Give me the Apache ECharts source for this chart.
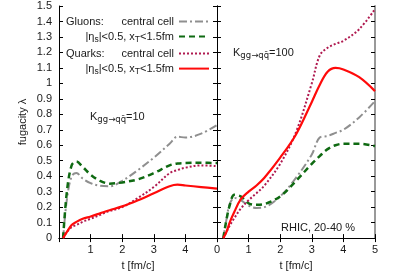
<!DOCTYPE html>
<html>
<head>
<meta charset="utf-8">
<script src="https://cdn.jsdelivr.net/npm/echarts@6/dist/echarts.min.js"></script>
<style>html,body{margin:0;padding:0;background:#fff;}#c{width:395px;height:276px;}</style>
</head>
<body>
<div id="c"></div>
<script>
// ---- data ----
var yTicks = [0,0.1,0.2,0.3,0.4,0.5,0.6,0.7,0.8,0.9,1,1.1,1.2,1.3,1.4,1.5];
var xTicks = [0,1,2,3,4,5];

// left panel: K = 10
var tLeft          = [0.13,0.25,0.4, 0.55, 0.75,1,    1.3,  1.6,  2,    2.5,  3,    3.5,  3.75, 4,    4.5,  5];
var gluonCentralL  = [0,   0.25,0.40,0.42, 0.385,0.355,0.338,0.335,0.37, 0.44, 0.52, 0.61, 0.655,0.65, 0.675,0.73];
var gluonCellL     = [0,   0.30,0.47,0.495,0.46, 0.41, 0.37, 0.352,0.36, 0.38, 0.42, 0.47, 0.482,0.485,0.487,0.485];
var quarkCentralL  = [0,   0.04,0.07,0.085,0.105,0.125,0.15, 0.175,0.2,  0.26, 0.33, 0.42, 0.44, 0.455,0.47, 0.465];
var quarkCellL     = [0,   0.04,0.085,0.105,0.125,0.14,0.16, 0.18, 0.205,0.245,0.29, 0.335,0.345,0.34, 0.33, 0.32];

// right panel: K = 100
var tRight         = [0.2,0.3, 0.4, 0.55,0.75, 1,    1.25, 1.5, 2,    2.5,  3,    3.25, 3.5,  3.75, 4,    4.5,  5];
var gluonCentralR  = [0,  0.12,0.22,0.26,0.245,0.21, 0.195,0.2, 0.27, 0.39, 0.54, 0.65, 0.66, 0.68, 0.70, 0.78, 0.885];
var gluonCellR     = [0,  0.12,0.21,0.28,0.27, 0.225,0.215,0.22,0.27, 0.37, 0.48, 0.53, 0.575,0.60, 0.61, 0.61, 0.595];
var quarkCentralR  = [0,  0.04,0.08,0.13,0.19, 0.245,0.29, 0.34,0.48, 0.685,1.0,  1.18, 1.23, 1.255,1.275,1.35, 1.48];
var quarkCellR     = [0,  0.04,0.10,0.17,0.25, 0.30, 0.34, 0.39,0.52, 0.67, 0.88, 0.99, 1.075,1.10, 1.09, 1.04, 0.95];

function pairs(t, v){ return t.map(function(x,i){ return [x, v[i]]; }); }

var FONT = 'Liberation Sans, Arial, sans-serif';
var FS = 11;
var TXT = '#1a1a1a';
var C_GRAY = '#8f8f8f', C_GREEN = '#0f6a12', C_DOT = '#b01a50', C_RED = '#ff0a0a';

var chart = echarts.init(document.getElementById('c'), null, {renderer:'canvas'});

function xAx(grid, pos, labels, minmax){
  return {
    type:'value', gridIndex:grid, position:pos, min:0, max:5, interval:1,
    axisLine:{show:true, lineStyle:{color:'#000', width:1}},
    axisTick:{show:true, inside:true, length:4, lineStyle:{color:'#000'}},
    axisLabel:{show:labels, color:TXT, fontFamily:FONT, fontSize:FS, margin:6,
      showMinLabel:minmax, showMaxLabel:minmax},
    splitLine:{show:false},
    name: (pos==='bottom') ? 't [fm/c]' : '',
    nameLocation:'middle', nameGap:19,
    nameTextStyle:{color:TXT, fontFamily:FONT, fontSize:FS}
  };
}
function yAx(grid, pos, labels, color, width){
  return {
    type:'value', gridIndex:grid, position:pos, min:0, max:1.5, interval:0.1,
    axisLine:{show:true, onZero:false, lineStyle:{color:color, width:width}},
    axisTick:{show:true, inside:true, length:4, lineStyle:{color:'#000'}},
    axisLabel:{show:labels, color:TXT, fontFamily:FONT, fontSize:FS, margin:7,
      formatter:function(v){ return String(Math.round(v*10)/10); }},
    splitLine:{show:false}
  };
}

var styles = {
  gc:{color:C_GRAY, width:2, type:[8,3,2,3]},
  gl:{color:C_GREEN, width:2.5, type:[6,4]},
  qc:{color:C_DOT, width:2, type:[2,2]},
  ql:{color:C_RED, width:2.2, type:'solid'}
};
function ser(name, xi, yi, data, st){
  return {
    name:name, type:'line', xAxisIndex:xi, yAxisIndex:yi, data:data,
    showSymbol:false, symbol:'none', smooth:0.35, animation:false,
    lineStyle:st, itemStyle:{color:st.color}, z:3
  };
}

var richSub = {
  s:{fontSize:8.5, fontFamily:FONT, color:TXT, padding:[6,0,0,0]},
  k:{fontSize:8.5, fontFamily:'DejaVu Sans', color:TXT, padding:[6,0,0,0]}
};
function leg(name, text, top){
  return {
    data:[name], right:185, top:top, orient:'horizontal', align:'right',
    padding:0, itemWidth:30, itemHeight:14, selectedMode:false,
    itemStyle:{opacity:0},
    formatter:function(){ return text; },
    textStyle:{color:TXT, fontFamily:FONT, fontSize:FS, rich:richSub}
  };
}

var option = {
  backgroundColor:'#fff',
  animation:false,
  grid:[
    {left:59, top:6, width:158, height:237, show:false},
    {left:217, top:6, width:158, height:237, show:false}
  ],
  xAxis:[
    xAx(0,'bottom',true,false),
    xAx(0,'top',false,false),
    xAx(1,'bottom',true,true),
    xAx(1,'top',false,false)
  ],
  yAxis:[
    yAx(0,'left',true,'#000',1),
    yAx(0,'right',false,'#000',1),
    yAx(1,'left',false,'#000',1),
    yAx(1,'right',false,'#999',2)
  ],
  legend:[
    leg('gcL','central cell',16),
    leg('glL','|η{s|s}|<0.5, x{s|T}<1.5fm',31),
    leg('qcL','central cell',48),
    leg('qlL','|η{s|s}|<0.5, x{s|T}<1.5fm',63)
  ],
  graphic:[
    {type:'text', left:66, top:16, style:{text:'Gluons:', fill:TXT, font:FS+'px '+FONT}},
    {type:'text', left:66, top:48, style:{text:'Quarks:', fill:TXT, font:FS+'px '+FONT}},
    {type:'text', x:23, y:122, rotation:Math.PI/2,
      style:{text:'fugacity λ', fill:TXT, font:FS+'px '+FONT, align:'center', verticalAlign:'middle'}},
    {type:'text', left:90, top:111,
      style:{text:'K{k|gg→qq\u0304}=10', fill:TXT, font:FS+'px '+FONT, rich:richSub}},
    {type:'text', left:233, top:47,
      style:{text:'K{k|gg→qq\u0304}=100', fill:TXT, font:FS+'px '+FONT, rich:richSub}},
    {type:'text', left:281, top:222,
      style:{text:'RHIC, 20-40 %', fill:TXT, font:FS+'px '+FONT}}
  ],
  series:[
    ser('gcL',0,0,pairs(tLeft,gluonCentralL),styles.gc),
    ser('glL',0,0,pairs(tLeft,gluonCellL),styles.gl),
    ser('qcL',0,0,pairs(tLeft,quarkCentralL),styles.qc),
    ser('qlL',0,0,pairs(tLeft,quarkCellL),styles.ql),
    ser('gcR',2,2,pairs(tRight,gluonCentralR),styles.gc),
    ser('glR',2,2,pairs(tRight,gluonCellR),styles.gl),
    ser('qcR',2,2,pairs(tRight,quarkCentralR),styles.qc),
    ser('qlR',2,2,pairs(tRight,quarkCellR),styles.ql)
  ]
};
chart.setOption(option);
</script>
</body>
</html>
